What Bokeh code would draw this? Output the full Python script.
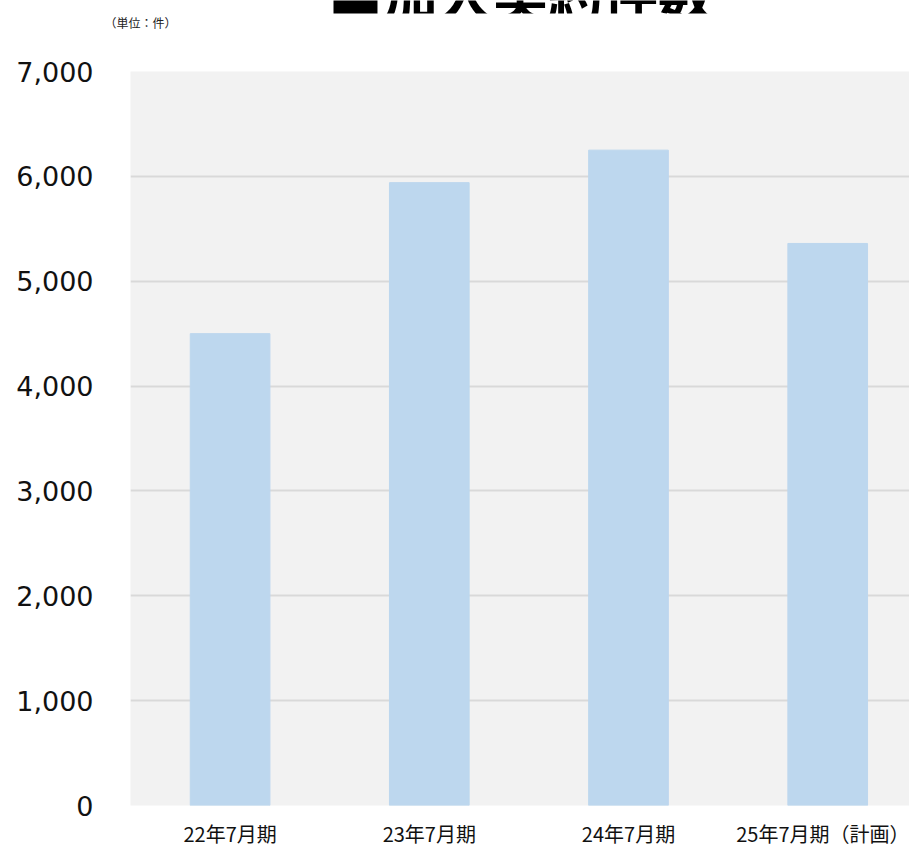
from bokeh.plotting import figure
from bokeh.layouts import column
from bokeh.models import Range1d, FixedTicker, NumeralTickFormatter, ColumnDataSource, Title
from bokeh.core.properties import value
from bokeh.embed import file_html
from bokeh.resources import INLINE

# ---- data ----
categories = ["22年7月期", "23年7月期", "24年7月期", "25年7月期（計画）"]
counts = [4500, 5940, 6250, 5360]
y_ticks = [0, 1000, 2000, 3000, 4000, 5000, 6000, 7000]
title_text = "■加入契約件数"
unit_text = "（単位：件）"

W = 909
H = 850
TITLE_STRIP = 16   # visible strip of the (cut) title
UNIT_STRIP = 16    # strip holding the unit note
H1 = TITLE_STRIP + UNIT_STRIP
H2 = H - H1
LEFT = 130
FRAME_TOP = 71
FRAME_BOTTOM = 805

# ---- header: the title is cut at the top, as in the reference ----
head = figure(width=W, height=H1, output_backend="svg", toolbar_location=None,
              x_range=Range1d(LEFT, W), y_range=Range1d(0, TITLE_STRIP),
              min_border_left=LEFT, min_border_right=0,
              min_border_top=0, min_border_bottom=UNIT_STRIP)
head.axis.visible = False
head.grid.visible = False
head.outline_line_color = None
head.background_fill_color = "white"
head.border_fill_color = "white"
head.text(x=[520], y=[TITLE_STRIP + 9], text=[title_text], text_align="center",
          text_baseline="alphabetic", text_font=value("Noto Sans CJK JP"),
          text_font_style="bold", text_font_size="55px", text_color="black")
head.add_layout(Title(text=unit_text, align="left", vertical_align="top",
                      offset=-26, standoff=0, text_font="Noto Sans CJK JP",
                      text_font_style="normal", text_font_size="12px",
                      text_color="#222222"), "below")

# ---- chart ----
xs = [i + 0.5 for i in range(len(categories))]
src = ColumnDataSource(dict(x=xs, top=counts, cat=categories))

px_per_cat = 199.2
p = figure(width=W, height=H2, output_backend="svg", toolbar_location=None,
           x_range=Range1d(0, (W - LEFT) / px_per_cat), y_range=Range1d(0, 7000),
           min_border_left=LEFT, min_border_right=0,
           min_border_top=FRAME_TOP - H1, min_border_bottom=H - FRAME_BOTTOM)

p.background_fill_color = "#f2f2f2"
p.border_fill_color = "white"
p.outline_line_color = None

p.vbar(x="x", top="top", width=0.4, source=src, fill_color="#bdd7ee",
       line_color="#bdd7ee")

p.xgrid.grid_line_color = None
p.ygrid.ticker = FixedTicker(ticks=y_ticks)
p.ygrid.grid_line_color = "#d9d9d9"
p.ygrid.grid_line_width = 2

p.yaxis.ticker = FixedTicker(ticks=y_ticks)
p.yaxis.formatter = NumeralTickFormatter(format="0,0")
p.yaxis.axis_line_color = None
p.yaxis.major_tick_line_color = None
p.yaxis.minor_tick_line_color = None
p.yaxis.major_tick_out = 0
p.yaxis.major_label_standoff = 37
p.yaxis.major_label_text_font = "DejaVu Sans"
p.yaxis.major_label_text_font_size = "27px"
p.yaxis.major_label_text_color = "#111111"

p.xaxis.ticker = FixedTicker(ticks=xs)
p.xaxis.major_label_overrides = {x: c for x, c in zip(xs, categories)}
p.xaxis.axis_line_color = None
p.xaxis.major_tick_line_color = None
p.xaxis.minor_tick_line_color = None
p.xaxis.major_tick_out = 0
p.xaxis.major_label_standoff = 13
p.xaxis.major_label_text_font = "Noto Sans CJK JP"
p.xaxis.major_label_text_font_size = "20px"
p.xaxis.major_label_text_color = "#111111"

layout = column(head, p, spacing=0)
open("out.html", "w").write(file_html(layout, INLINE))
